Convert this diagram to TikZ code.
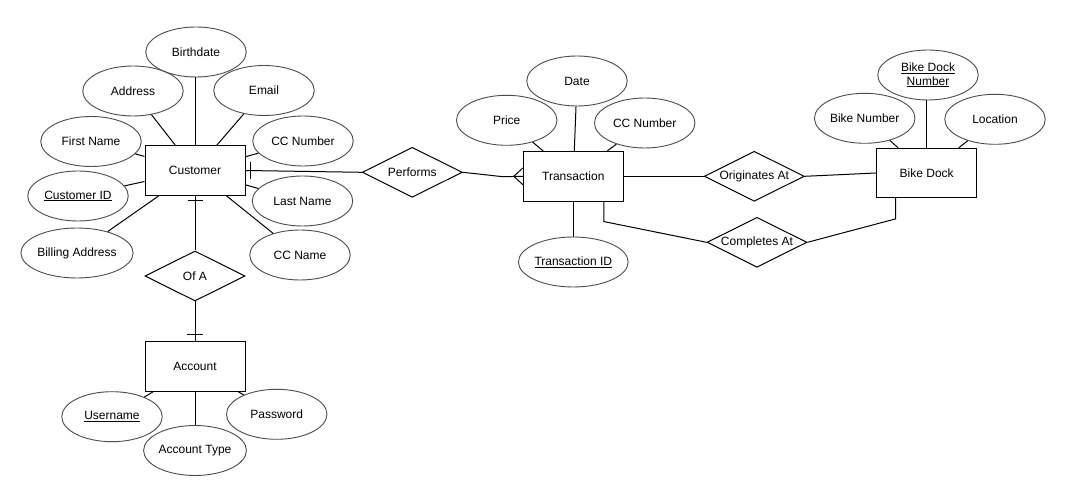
\documentclass[tikz,border=0pt]{standalone}
\usepackage{fontspec}
\setmainfont{Liberation Sans}
\usetikzlibrary{shapes.geometric,calc}
\begin{document}
\begin{tikzpicture}[x=1pt,y=-1pt,
  every node/.style={font=\fontsize{12}{14}\selectfont, text=black},
  ent/.style={draw=black, line width=1pt, rectangle, minimum width=100pt, minimum height=49.5pt, inner sep=0pt},
  attr/.style={draw=black!70, line width=0.9pt, ellipse, minimum width=100.5pt, minimum height=50pt, inner sep=0pt},
  rel/.style={draw=black, line width=1pt, diamond, aspect=2, minimum width=100pt, minimum height=50pt, inner sep=0pt},
  conn/.style={draw=black, line width=1pt},
]
\useasboundingbox (0,0) rectangle (1071,502);
\fill[white] (0,0) rectangle (1071,502);

% Customer cluster
\node[ent] (cust) at (195,170.5) {Customer};
\node[attr] (bday) at (196,52) {Birthdate};
\node[attr] (addr) at (133,91) {Address};
\node[attr] (email) at (264,90.5) {Email};
\node[attr] (fname) at (91,141.5) {First Name};
\node[attr] (ccnum) at (303,141) {CC Number};
\node[attr] (cid) at (78,196) {\underline{Customer ID}};
\node[attr] (lname) at (302.5,201) {Last Name};
\node[attr] (bill) at (77,253) {Billing Address};
\node[attr] (ccname) at (300,255) {CC Name};

\foreach \a in {addr,email,fname,ccnum,cid,lname,bill,ccname}
  \draw[conn] (cust) -- (\a);
\draw[conn] (bday.south -| cust.north) -- (cust.north);

% Of A / Account
\node[rel] (ofa) at (195,276) {Of A};
\node[ent] (acct) at (195,366.3) {Account};
\node[attr] (user) at (112,416.7) {\underline{Username}};
\node[attr] (atype) at (195,450.5) {Account Type};
\node[attr] (pass) at (276.7,414.3) {Password};

\draw[conn] (cust.south) -- (ofa.north);
\draw[conn] ($(cust.south)+(-7.5,5)$) -- ($(cust.south)+(7.5,5)$);
\draw[conn] (ofa.south) -- (acct.north);
\draw[conn] ($(acct.north)+(-8,-6.5)$) -- ($(acct.north)+(8,-6.5)$);
\draw[conn] (acct) -- (user);
\draw[conn] (acct) -- (pass);
\draw[conn] (acct.south) -- (atype.north);

% Performs
\node[rel] (perf) at (412.3,172.3) {Performs};
\node[ent] (trans) at (573.3,176.3) {Transaction};
\draw[conn] (cust.east) -- (perf.west);
\draw[conn] ($(cust.east)+(5,-8.3)$) -- ($(cust.east)+(5,8.3)$);
\draw[conn] (perf.east) -- ($(trans.west)+(-20,0.4)$) -- (trans.west);
\draw[conn] ($(trans.west)+(0,-8.3)$) -- ($(trans.west)+(-9,0)$) -- ($(trans.west)+(0,8.3)$);

% Transaction attributes
\node[attr] (date) at (577,81) {Date};
\node[attr] (price) at (506.7,120.3) {Price};
\node[attr] (tccn) at (644.7,123) {CC Number};
\node[attr] (tid) at (573.3,262) {\underline{Transaction ID}};
\draw[conn] (trans) -- (date);
\draw[conn] (trans) -- (price);
\draw[conn] (trans) -- (tccn);
\draw[conn] (trans.south) -- (tid.north);

% Bike Dock
\node[rel] (orig) at (754.3,176.3) {Originates At};
\node[rel] (comp) at (757,242.3) {Completes At};
\node[ent] (dock) at (926.7,173) {Bike Dock};
\node[attr, align=center, font=\fontsize{12}{13.5}\selectfont] (dnum) at (928,75) {\underline{Bike Dock}\\\underline{Number}};
\node[attr] (bnum) at (864.7,118.3) {Bike Number};
\node[attr] (loc) at (995,119.3) {Location};
\draw[conn] (dnum.south -| dock.north) -- (dock.north);
\draw[conn] (dock) -- (bnum);
\draw[conn] (dock) -- (loc);

\draw[conn] (trans.east) -- (orig.west);
\draw[conn] (orig.east) -- (dock.west);
\draw[conn] ($(trans.south east)+(-20,0)$) -- ($(trans.south east)+(-20,20)$) -- (comp.west);
\draw[conn] (comp.east) -- ($(dock.south)+(-31,20.6)$) -- ($(dock.south)+(-31,0)$);
\end{tikzpicture}
\end{document}
